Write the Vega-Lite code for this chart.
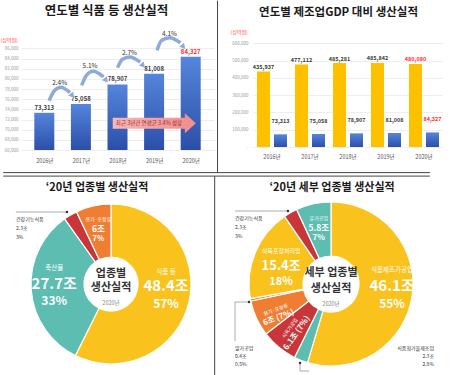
{
"$schema":"https://vega.github.io/schema/vega-lite/v6.json",
"background":"white",
"padding":0,
"config":{"font":"Noto Sans CJK KR","view":{"stroke":null},"title":{"font":"Noto Sans CJK KR","fontWeight":"bold","color":"#1a1a1a"},"axis":{"labelFont":"Noto Sans CJK KR","titleFont":"Noto Sans CJK KR"}},
"datasets":{
"foodYearly":[{"i":0,"year":"2016년","value":73313},{"i":1,"year":"2017년","value":75058},{"i":2,"year":"2018년","value":78907},{"i":3,"year":"2019년","value":81008},{"i":4,"year":"2020년","value":84327}],
"gdpYearly":[{"year":"2016년","series":"제조업GDP","value":435937},{"year":"2016년","series":"식품 등","value":73313},{"year":"2017년","series":"제조업GDP","value":477112},{"year":"2017년","series":"식품 등","value":75058},{"year":"2018년","series":"제조업GDP","value":485281},{"year":"2018년","series":"식품 등","value":78907},{"year":"2019년","series":"제조업GDP","value":485842},{"year":"2019년","series":"식품 등","value":81008},{"year":"2020년","series":"제조업GDP","value":480080},{"year":"2020년","series":"식품 등","value":84327}],
"growthArrows":[{"arrow":"a1","i":0.13,"value":75700},{"arrow":"a1","i":0.28,"value":77700},{"arrow":"a1","i":0.45,"value":78350},{"arrow":"a1","i":0.7,"value":77300},{"arrow":"a2","i":1.02,"value":78700},{"arrow":"a2","i":1.15,"value":80700},{"arrow":"a2","i":1.33,"value":81500},{"arrow":"a2","i":1.62,"value":80400},{"arrow":"a3","i":2.0,"value":82200},{"arrow":"a3","i":2.13,"value":83800},{"arrow":"a3","i":2.33,"value":84300},{"arrow":"a3","i":2.62,"value":83300},{"arrow":"a4","i":3.08,"value":85600},{"arrow":"a4","i":3.2,"value":87500},{"arrow":"a4","i":3.42,"value":88100},{"arrow":"a4","i":3.72,"value":87100}],
"growthHeads":[{"arrow":"a1","i":0.77,"value":76700},{"arrow":"a2","i":1.69,"value":79700},{"arrow":"a3","i":2.7,"value":82600},{"arrow":"a4","i":3.8,"value":86300}],
"growthRates":[{"i":0.42,"value":79150,"rate":"2.4%"},{"i":1.25,"value":82600,"rate":"5.1%"},{"i":2.33,"value":85150,"rate":"2.7%"},{"i":3.42,"value":88900,"rate":"4.1%"}],
"note":[{"caption":"최근 3년간 연평균 3.4% 성장"}],
"sector":[{"name":"식품 등","value":48.4,"amount":"48.4조","pct":"57%","ord":1},{"name":"축산물","value":27.7,"amount":"27.7조","pct":"33%","ord":2},{"name":"건강기능식품","value":2.3,"amount":"2.3조","pct":"3%","ord":3},{"name":"용기·포장류","value":6,"amount":"6조","pct":"7%","ord":4}],
"detail":[{"name":"식품제조가공업","value":46.1,"amount":"46.1조","pct":"55%","short":"46.1조 (55%)","ord":1},{"name":"식품첨가물제조업","value":2.3,"amount":"2.3조","pct":"2.8%","short":"2.3조 (2.8%)","ord":2},{"name":"식육가공업","value":6.1,"amount":"6.1조","pct":"7%","short":"6.1조 (7%)","ord":3},{"name":"용기·포장류","value":6,"amount":"6조","pct":"7%","short":"6조 (7%)","ord":4},{"name":"알가공업","value":0.4,"amount":"0.4조","pct":"0.5%","short":"0.4조 (0.5%)","ord":5},{"name":"식육포장처리업","value":15.4,"amount":"15.4조","pct":"18%","short":"15.4조 (18%)","ord":6},{"name":"건강기능식품","value":2.3,"amount":"2.3조","pct":"3%","short":"2.3조 (3%)","ord":7},{"name":"유가공업","value":5.8,"amount":"5.8조","pct":"7%","short":"5.8조 (7%)","ord":8}]
},
"columns":2,
"spacing":{"row":44,"column":39},
"bounds":"flush",
"concat":[
{
"width":193,"height":122,
"title":{"text":"연도별 식품 등 생산실적","fontSize":12.5,"dx":-11,"offset":-17.4},
"resolve":{"axis":{"x":"independent","y":"independent"}},
"layer":[
{"data":{"name":"foodYearly"},"mark":{"type":"bar","width":20,"fill":{"gradient":"linear","x1":0,"y1":0,"x2":0,"y2":1,"stops":[{"offset":0,"color":"#5585dc"},{"offset":1,"color":"#2b4fa8"}]}},
"encoding":{
"x":{"field":"i","type":"quantitative","scale":{"domain":[-0.5,4.5],"nice":false,"zero":false},"axis":{"values":[0,1,2,3,4],"labelExpr":"(2016 + datum.value) + '년'","grid":false,"domain":false,"ticks":false,"title":null,"labelFontSize":5.5,"labelColor":"#555","labelPadding":8}},
"y":{"field":"value","type":"quantitative","scale":{"domain":[66000,90000],"nice":false,"zero":false},"axis":{"values":[66000,68000,70000,72000,74000,76000,78000,80000,82000,84000,86000],"labelExpr":"format(datum.value, ',')","grid":true,"gridColor":"#e3e3e3","gridWidth":0.6,"domain":false,"ticks":false,"labelFontSize":4.5,"labelColor":"#999","labelPadding":3,"title":"(십억원)","titleColor":"#ff3b3b","titleFontSize":5,"titleFontWeight":"normal","titleAngle":0,"titleAlign":"left","titleBaseline":"middle","titleX":-21,"titleY":11}},
"y2":{"datum":66000}}},
{"data":{"name":"foodYearly"},"mark":{"type":"text","dy":-3,"fontSize":6,"fontWeight":"bold","baseline":"alphabetic"},"encoding":{
"x":{"field":"i","type":"quantitative","scale":{"domain":[-0.5,4.5],"nice":false,"zero":false},"axis":null},
"y":{"field":"value","type":"quantitative","scale":{"domain":[66000,90000],"nice":false,"zero":false},"axis":null},
"text":{"field":"value","type":"quantitative","format":","},"color":{"condition":{"test":"datum.i === 4","value":"#ff2a2a"},"value":"#3a3a3a"}}},
{"data":{"name":"growthArrows"},"mark":{"type":"line","interpolate":"monotone","strokeWidth":3.5,"color":"#8eaadb","strokeCap":"butt"},"encoding":{
"x":{"field":"i","type":"quantitative","scale":{"domain":[-0.5,4.5],"nice":false,"zero":false},"axis":null},
"y":{"field":"value","type":"quantitative","scale":{"domain":[66000,90000],"nice":false,"zero":false},"axis":null},
"detail":{"field":"arrow"}}},
{"data":{"name":"growthHeads"},"mark":{"type":"point","shape":"triangle-down","angle":-40,"size":40,"filled":true,"color":"#8eaadb","opacity":1},"encoding":{
"x":{"field":"i","type":"quantitative","scale":{"domain":[-0.5,4.5],"nice":false,"zero":false},"axis":null},
"y":{"field":"value","type":"quantitative","scale":{"domain":[66000,90000],"nice":false,"zero":false},"axis":null}}},
{"data":{"name":"growthRates"},"mark":{"type":"text","fontSize":6.5,"color":"#333"},"encoding":{
"x":{"field":"i","type":"quantitative","scale":{"domain":[-0.5,4.5],"nice":false,"zero":false},"axis":null},
"y":{"field":"value","type":"quantitative","scale":{"domain":[66000,90000],"nice":false,"zero":false},"axis":null},
"text":{"field":"rate"}}},
{"data":{"name":"note"},"mark":{"type":"rect","fill":{"gradient":"linear","x1":0,"y1":0,"x2":1,"y2":0,"stops":[{"offset":0,"color":"#f6b7b7"},{"offset":1,"color":"#f29090"}]}},"encoding":{
"x":{"datum":1.87,"type":"quantitative","scale":{"domain":[-0.5,4.5],"nice":false,"zero":false},"axis":null},"x2":{"datum":3.86},
"y":{"datum":72360,"type":"quantitative","scale":{"domain":[66000,90000],"nice":false,"zero":false},"axis":null},"y2":{"datum":70190}}},
{"data":{"name":"note"},"mark":{"type":"point","shape":"M-0.55,-1L0.55,0L-0.55,1Z","size":400,"filled":true,"color":"#f29090","opacity":1},"encoding":{
"x":{"datum":3.99,"type":"quantitative","scale":{"domain":[-0.5,4.5],"nice":false,"zero":false},"axis":null},
"y":{"datum":71280,"type":"quantitative","scale":{"domain":[66000,90000],"nice":false,"zero":false},"axis":null}}},
{"data":{"name":"note"},"mark":{"type":"text","fontSize":5.5,"color":"#9a3535"},"encoding":{
"x":{"datum":2.86,"type":"quantitative","scale":{"domain":[-0.5,4.5],"nice":false,"zero":false},"axis":null},
"y":{"datum":71280,"type":"quantitative","scale":{"domain":[66000,90000],"nice":false,"zero":false},"axis":null},
"text":{"field":"caption"}}},
{"data":{"values":[{}]},"mark":{"type":"rule","color":"#444","strokeWidth":1},"encoding":{
"x":{"datum":4.733,"type":"quantitative","scale":{"domain":[-0.5,4.5],"nice":false,"zero":false},"axis":null},
"y":{"datum":95390,"type":"quantitative","scale":{"domain":[66000,90000],"nice":false,"zero":false},"axis":null},"y2":{"datum":61554}}},
{"data":{"values":[{}]},"mark":{"type":"rule","color":"#444","strokeWidth":1},"encoding":{
"x":{"datum":-1.122,"type":"quantitative","scale":{"domain":[-0.5,4.5],"nice":false,"zero":false},"axis":null},"x2":{"datum":10.536},
"y":{"datum":61554,"type":"quantitative","scale":{"domain":[66000,90000],"nice":false,"zero":false},"axis":null}}},
{"data":{"values":[{}]},"mark":{"type":"rule","color":"#444","strokeWidth":1},"encoding":{
"x":{"datum":-1.122,"type":"quantitative","scale":{"domain":[-0.5,4.5],"nice":false,"zero":false},"axis":null},"x2":{"datum":10.536},
"y":{"datum":60866,"type":"quantitative","scale":{"domain":[66000,90000],"nice":false,"zero":false},"axis":null}}},
{"data":{"values":[{}]},"mark":{"type":"rule","color":"#444","strokeWidth":1},"encoding":{
"x":{"datum":4.655,"type":"quantitative","scale":{"domain":[-0.5,4.5],"nice":false,"zero":false},"axis":null},
"y":{"datum":60866,"type":"quantitative","scale":{"domain":[66000,90000],"nice":false,"zero":false},"axis":null},"y2":{"datum":21620}}}
]
},
{
"width":190,"height":119,
"title":{"text":"연도별 제조업GDP 대비 생산실적","fontSize":11.5,"dx":-9.5,"offset":10},
"data":{"name":"gdpYearly"},
"encoding":{
"x":{"field":"year","type":"nominal","scale":{"paddingInner":0,"paddingOuter":0},"axis":{"labelAngle":0,"grid":false,"domain":false,"ticks":false,"title":null,"labelFontSize":5.5,"labelColor":"#555","labelPadding":7}},
"xOffset":{"field":"series","type":"nominal","scale":{"domain":["제조업GDP","식품 등"],"paddingInner":0.235,"paddingOuter":0.235}},
"y":{"field":"value","type":"quantitative","scale":{"domain":[0,688000],"nice":false},"axis":{"values":[0,100000,200000,300000,400000,500000,600000],"labelExpr":"datum.value === 0 ? '-' : format(datum.value, ',')","grid":true,"gridColor":"#e3e3e3","gridWidth":0.6,"domain":false,"ticks":false,"labelFontSize":4.5,"labelColor":"#999","labelPadding":5,"title":"(십억원)","titleColor":"#ff3b3b","titleFontSize":5,"titleFontWeight":"normal","titleAngle":0,"titleAlign":"left","titleBaseline":"middle","titleX":-23,"titleY":3.3}}
},
"layer":[
{"transform":[{"filter":"datum.series === '제조업GDP'"}],"mark":{"type":"bar","fill":"#ffc000"}},
{"transform":[{"filter":"datum.series === '식품 등'"}],"mark":{"type":"bar","fill":{"gradient":"linear","x1":0,"y1":0,"x2":0,"y2":1,"stops":[{"offset":0,"color":"#5585dc"},{"offset":1,"color":"#2b4fa8"}]}}},
{"transform":[{"filter":"datum.series === '제조업GDP'"}],"mark":{"type":"text","dy":-2.5,"fontSize":5.5,"fontWeight":"bold","baseline":"alphabetic"},"encoding":{"text":{"field":"value","type":"quantitative","format":","},"color":{"condition":{"test":"datum.year === '2020년'","value":"#ff2a2a"},"value":"#3a3a3a"}}},
{"transform":[{"filter":"datum.series === '식품 등'"}],"mark":{"type":"text","dy":-11,"fontSize":5.5,"fontWeight":"bold","baseline":"alphabetic"},"encoding":{"text":{"field":"value","type":"quantitative","format":","},"color":{"condition":{"test":"datum.year === '2020년'","value":"#ff2a2a"},"value":"#3a3a3a"}}}
]
},
{
"width":180,"height":180,
"title":{"text":"‘20년 업종별 생산실적","fontSize":11,"dx":-14,"offset":1},
"data":{"name":"sector"},
"layer":[
{"mark":{"type":"arc","outerRadius":80,"innerRadius":27,"stroke":"#ffffff","strokeWidth":1.2},"encoding":{"theta":{"field":"value","type":"quantitative","stack":true},"order":{"field":"ord","type":"quantitative"},"color":{"field":"name","type":"nominal","scale":{"domain":["식품 등","축산물","건강기능식품","용기·포장류"],"range":["#f9c21d","#5dbdb1","#c8363a","#ef7e33"]},"legend":null}}},
{"mark":{"type":"text","radius":56.5,"dy":-25,"fontSize":6.5,"color":"#ffffff"},"encoding":{"theta":{"field":"value","type":"quantitative","stack":true},"order":{"field":"ord","type":"quantitative"},"text":{"condition":{"test":"datum.name === '식품 등'","field":"name"},"value":""}}},
{"mark":{"type":"text","radius":56.5,"dy":-11,"fontSize":15,"fontWeight":"bold","color":"#ffffff"},"encoding":{"theta":{"field":"value","type":"quantitative","stack":true},"order":{"field":"ord","type":"quantitative"},"text":{"condition":{"test":"datum.name === '식품 등'","field":"amount"},"value":""}}},
{"mark":{"type":"text","radius":56.5,"dy":7,"fontSize":12,"fontWeight":"bold","color":"#ffffff"},"encoding":{"theta":{"field":"value","type":"quantitative","stack":true},"order":{"field":"ord","type":"quantitative"},"text":{"condition":{"test":"datum.name === '식품 등'","field":"pct"},"value":""}}},
{"mark":{"type":"text","radius":57,"dy":-20,"fontSize":6.5,"color":"#ffffff"},"encoding":{"theta":{"field":"value","type":"quantitative","stack":true},"order":{"field":"ord","type":"quantitative"},"text":{"condition":{"test":"datum.name === '축산물'","field":"name"},"value":""}}},
{"mark":{"type":"text","radius":57,"dy":-4,"fontSize":15,"fontWeight":"bold","color":"#ffffff"},"encoding":{"theta":{"field":"value","type":"quantitative","stack":true},"order":{"field":"ord","type":"quantitative"},"text":{"condition":{"test":"datum.name === '축산물'","field":"amount"},"value":""}}},
{"mark":{"type":"text","radius":57,"dy":13,"fontSize":12,"fontWeight":"bold","color":"#ffffff"},"encoding":{"theta":{"field":"value","type":"quantitative","stack":true},"order":{"field":"ord","type":"quantitative"},"text":{"condition":{"test":"datum.name === '축산물'","field":"pct"},"value":""}}},
{"mark":{"type":"text","radius":57,"dy":-9.5,"fontSize":5,"color":"#ffffff"},"encoding":{"theta":{"field":"value","type":"quantitative","stack":true},"order":{"field":"ord","type":"quantitative"},"text":{"condition":{"test":"datum.name === '용기·포장류'","field":"name"},"value":""}}},
{"mark":{"type":"text","radius":57,"dy":0.5,"fontSize":8.5,"fontWeight":"bold","color":"#ffffff"},"encoding":{"theta":{"field":"value","type":"quantitative","stack":true},"order":{"field":"ord","type":"quantitative"},"text":{"condition":{"test":"datum.name === '용기·포장류'","field":"amount"},"value":""}}},
{"mark":{"type":"text","radius":57,"dy":10.5,"fontSize":7.5,"fontWeight":"bold","color":"#ffffff"},"encoding":{"theta":{"field":"value","type":"quantitative","stack":true},"order":{"field":"ord","type":"quantitative"},"text":{"condition":{"test":"datum.name === '용기·포장류'","field":"pct"},"value":""}}},
{"transform":[{"filter":"datum.name === '건강기능식품'"}],"mark":{"type":"text","align":"left","fontSize":5,"color":"#333"},"encoding":{"x":{"datum":-95,"type":"quantitative","scale":{"domain":[-90,90]},"axis":null},"y":{"datum":-65,"type":"quantitative","scale":{"domain":[-90,90],"reverse":true},"axis":null},"text":{"field":"name"}}},
{"transform":[{"filter":"datum.name === '건강기능식품'"}],"mark":{"type":"text","align":"left","fontSize":5,"color":"#333"},"encoding":{"x":{"datum":-95,"type":"quantitative","scale":{"domain":[-90,90]},"axis":null},"y":{"datum":-56,"type":"quantitative","scale":{"domain":[-90,90],"reverse":true},"axis":null},"text":{"field":"amount"}}},
{"transform":[{"filter":"datum.name === '건강기능식품'"}],"mark":{"type":"text","align":"left","fontSize":5,"color":"#333"},"encoding":{"x":{"datum":-95,"type":"quantitative","scale":{"domain":[-90,90]},"axis":null},"y":{"datum":-47,"type":"quantitative","scale":{"domain":[-90,90],"reverse":true},"axis":null},"text":{"field":"pct"}}},
{"data":{"values":[{}]},"mark":{"type":"rule","color":"#888","strokeWidth":0.7},"encoding":{"x":{"datum":-95,"type":"quantitative","scale":{"domain":[-90,90]},"axis":null},"x2":{"datum":-44},"y":{"datum":-72,"type":"quantitative","scale":{"domain":[-90,90],"reverse":true},"axis":null}}},
{"data":{"values":[{}]},"mark":{"type":"point","filled":true,"size":6,"color":"#333","opacity":1},"encoding":{"x":{"datum":-44,"type":"quantitative","scale":{"domain":[-90,90]},"axis":null},"y":{"datum":-72,"type":"quantitative","scale":{"domain":[-90,90],"reverse":true},"axis":null}}},
{"data":{"values":[{}]},"mark":{"type":"text","text":"업종별","fontSize":11,"fontWeight":"bold","color":"#333","dy":-10.5}},
{"data":{"values":[{}]},"mark":{"type":"text","text":"생산실적","fontSize":11,"fontWeight":"bold","color":"#333","dy":3.6}},
{"data":{"values":[{}]},"mark":{"type":"text","text":"2020년","fontSize":5.5,"color":"#888","dy":19}}
]
},
{
"width":156,"height":180,
"title":{"text":"‘20년 세부 업종별 생산실적","fontSize":11,"dx":1,"offset":1},
"data":{"name":"detail"},
"layer":[
{"mark":{"type":"arc","outerRadius":82,"innerRadius":28,"stroke":"#ffffff","strokeWidth":1.2},"encoding":{"theta":{"field":"value","type":"quantitative","stack":true},"order":{"field":"ord","type":"quantitative"},"color":{"field":"name","type":"nominal","scale":{"domain":["식품제조가공업","식품첨가물제조업","식육가공업","용기·포장류","알가공업","식육포장처리업","건강기능식품","유가공업"],"range":["#f9c21d","#62c6b8","#1f9c86","#c9383c","#7a1c20","#ef6b3a","#c6c6c6","#595959"]},"legend":null}}},
{"mark":{"type":"text","radius":61.7,"dy":-23,"fontSize":6.5,"color":"#ffffff"},"encoding":{"theta":{"field":"value","type":"quantitative","stack":true},"order":{"field":"ord","type":"quantitative"},"text":{"condition":{"test":"datum.name === '식품제조가공업'","field":"name"},"value":""}}},
{"mark":{"type":"text","radius":61.7,"dy":-7,"fontSize":15,"fontWeight":"bold","color":"#ffffff"},"encoding":{"theta":{"field":"value","type":"quantitative","stack":true},"order":{"field":"ord","type":"quantitative"},"text":{"condition":{"test":"datum.name === '식품제조가공업'","field":"amount"},"value":""}}},
{"mark":{"type":"text","radius":61.7,"dy":11,"fontSize":12,"fontWeight":"bold","color":"#ffffff"},"encoding":{"theta":{"field":"value","type":"quantitative","stack":true},"order":{"field":"ord","type":"quantitative"},"text":{"condition":{"test":"datum.name === '식품제조가공업'","field":"pct"},"value":""}}},
{"mark":{"type":"text","radius":57,"dy":-10,"fontSize":5,"color":"#ffffff"},"encoding":{"theta":{"field":"value","type":"quantitative","stack":true},"order":{"field":"ord","type":"quantitative"},"text":{"condition":{"test":"datum.name === '유가공업'","field":"name"},"value":""}}},
{"mark":{"type":"text","radius":57,"dy":0,"fontSize":8.5,"fontWeight":"bold","color":"#ffffff"},"encoding":{"theta":{"field":"value","type":"quantitative","stack":true},"order":{"field":"ord","type":"quantitative"},"text":{"condition":{"test":"datum.name === '유가공업'","field":"amount"},"value":""}}},
{"mark":{"type":"text","radius":57,"dy":10,"fontSize":8,"fontWeight":"bold","color":"#ffffff"},"encoding":{"theta":{"field":"value","type":"quantitative","stack":true},"order":{"field":"ord","type":"quantitative"},"text":{"condition":{"test":"datum.name === '유가공업'","field":"pct"},"value":""}}},
{"mark":{"type":"text","radius":54,"dy":-12,"fontSize":6,"color":"#ffffff"},"encoding":{"theta":{"field":"value","type":"quantitative","stack":true},"order":{"field":"ord","type":"quantitative"},"text":{"condition":{"test":"datum.name === '식육포장처리업'","field":"name"},"value":""}}},
{"mark":{"type":"text","radius":54,"dy":3,"fontSize":13,"fontWeight":"bold","color":"#ffffff"},"encoding":{"theta":{"field":"value","type":"quantitative","stack":true},"order":{"field":"ord","type":"quantitative"},"text":{"condition":{"test":"datum.name === '식육포장처리업'","field":"amount"},"value":""}}},
{"mark":{"type":"text","radius":54,"dy":19,"fontSize":11,"fontWeight":"bold","color":"#ffffff"},"encoding":{"theta":{"field":"value","type":"quantitative","stack":true},"order":{"field":"ord","type":"quantitative"},"text":{"condition":{"test":"datum.name === '식육포장처리업'","field":"pct"},"value":""}}},
{"mark":{"type":"text","radius":61,"dy":0,"angle":-20,"fontSize":5,"color":"#ffffff"},"encoding":{"theta":{"field":"value","type":"quantitative","stack":true},"order":{"field":"ord","type":"quantitative"},"text":{"condition":{"test":"datum.name === '용기·포장류'","field":"name"},"value":""}}},
{"mark":{"type":"text","radius":61,"dy":9,"angle":-20,"fontSize":8,"fontWeight":"bold","color":"#ffffff"},"encoding":{"theta":{"field":"value","type":"quantitative","stack":true},"order":{"field":"ord","type":"quantitative"},"text":{"condition":{"test":"datum.name === '용기·포장류'","field":"short"},"value":""}}},
{"mark":{"type":"text","radius":60,"dy":-4,"angle":-55,"fontSize":5,"color":"#ffffff"},"encoding":{"theta":{"field":"value","type":"quantitative","stack":true},"order":{"field":"ord","type":"quantitative"},"text":{"condition":{"test":"datum.name === '식육가공업'","field":"name"},"value":""}}},
{"mark":{"type":"text","radius":60,"dy":5,"angle":-55,"fontSize":8,"fontWeight":"bold","color":"#ffffff"},"encoding":{"theta":{"field":"value","type":"quantitative","stack":true},"order":{"field":"ord","type":"quantitative"},"text":{"condition":{"test":"datum.name === '식육가공업'","field":"short"},"value":""}}},
{"transform":[{"filter":"datum.name === '건강기능식품'"}],"mark":{"type":"text","align":"left","fontSize":5,"color":"#333"},"encoding":{"x":{"datum":-96,"type":"quantitative","scale":{"domain":[-78,78]},"axis":null},"y":{"datum":-66,"type":"quantitative","scale":{"domain":[-90,90],"reverse":true},"axis":null},"text":{"field":"name"}}},
{"transform":[{"filter":"datum.name === '건강기능식품'"}],"mark":{"type":"text","align":"left","fontSize":5,"color":"#333"},"encoding":{"x":{"datum":-96,"type":"quantitative","scale":{"domain":[-78,78]},"axis":null},"y":{"datum":-57,"type":"quantitative","scale":{"domain":[-90,90],"reverse":true},"axis":null},"text":{"field":"amount"}}},
{"transform":[{"filter":"datum.name === '건강기능식품'"}],"mark":{"type":"text","align":"left","fontSize":5,"color":"#333"},"encoding":{"x":{"datum":-96,"type":"quantitative","scale":{"domain":[-78,78]},"axis":null},"y":{"datum":-48,"type":"quantitative","scale":{"domain":[-90,90],"reverse":true},"axis":null},"text":{"field":"pct"}}},
{"transform":[{"filter":"datum.name === '알가공업'"}],"mark":{"type":"text","align":"left","fontSize":5,"color":"#333"},"encoding":{"x":{"datum":-96,"type":"quantitative","scale":{"domain":[-78,78]},"axis":null},"y":{"datum":64,"type":"quantitative","scale":{"domain":[-90,90],"reverse":true},"axis":null},"text":{"field":"name"}}},
{"transform":[{"filter":"datum.name === '알가공업'"}],"mark":{"type":"text","align":"left","fontSize":5,"color":"#333"},"encoding":{"x":{"datum":-96,"type":"quantitative","scale":{"domain":[-78,78]},"axis":null},"y":{"datum":72,"type":"quantitative","scale":{"domain":[-90,90],"reverse":true},"axis":null},"text":{"field":"amount"}}},
{"transform":[{"filter":"datum.name === '알가공업'"}],"mark":{"type":"text","align":"left","fontSize":5,"color":"#333"},"encoding":{"x":{"datum":-96,"type":"quantitative","scale":{"domain":[-78,78]},"axis":null},"y":{"datum":80,"type":"quantitative","scale":{"domain":[-90,90],"reverse":true},"axis":null},"text":{"field":"pct"}}},
{"transform":[{"filter":"datum.name === '식품첨가물제조업'"}],"mark":{"type":"text","align":"right","fontSize":5,"color":"#333"},"encoding":{"x":{"datum":103,"type":"quantitative","scale":{"domain":[-78,78]},"axis":null},"y":{"datum":64,"type":"quantitative","scale":{"domain":[-90,90],"reverse":true},"axis":null},"text":{"field":"name"}}},
{"transform":[{"filter":"datum.name === '식품첨가물제조업'"}],"mark":{"type":"text","align":"right","fontSize":5,"color":"#333"},"encoding":{"x":{"datum":103,"type":"quantitative","scale":{"domain":[-78,78]},"axis":null},"y":{"datum":72,"type":"quantitative","scale":{"domain":[-90,90],"reverse":true},"axis":null},"text":{"field":"amount"}}},
{"transform":[{"filter":"datum.name === '식품첨가물제조업'"}],"mark":{"type":"text","align":"right","fontSize":5,"color":"#333"},"encoding":{"x":{"datum":103,"type":"quantitative","scale":{"domain":[-78,78]},"axis":null},"y":{"datum":80,"type":"quantitative","scale":{"domain":[-90,90],"reverse":true},"axis":null},"text":{"field":"pct"}}},
{"data":{"values":[{}]},"mark":{"type":"rule","color":"#888","strokeWidth":0.7},"encoding":{"x":{"datum":-96,"type":"quantitative","scale":{"domain":[-78,78]},"axis":null},"x2":{"datum":-43},"y":{"datum":-73,"type":"quantitative","scale":{"domain":[-90,90],"reverse":true},"axis":null}}},
{"data":{"values":[{}]},"mark":{"type":"rule","color":"#888","strokeWidth":0.7},"encoding":{"x":{"datum":-96,"type":"quantitative","scale":{"domain":[-78,78]},"axis":null},"x2":{"datum":-82},"y":{"datum":18,"type":"quantitative","scale":{"domain":[-90,90],"reverse":true},"axis":null}}},
{"data":{"values":[{}]},"mark":{"type":"rule","color":"#888","strokeWidth":0.7},"encoding":{"x":{"datum":-96,"type":"quantitative","scale":{"domain":[-78,78]},"axis":null},"y":{"datum":18,"type":"quantitative","scale":{"domain":[-90,90],"reverse":true},"axis":null},"y2":{"datum":57}}},
{"data":{"values":[{}]},"mark":{"type":"rule","color":"#888","strokeWidth":0.7},"encoding":{"x":{"datum":-31,"type":"quantitative","scale":{"domain":[-78,78]},"axis":null},"y":{"datum":79,"type":"quantitative","scale":{"domain":[-90,90],"reverse":true},"axis":null},"y2":{"datum":87}}},
{"data":{"values":[{}]},"mark":{"type":"rule","color":"#888","strokeWidth":0.7},"encoding":{"x":{"datum":-31,"type":"quantitative","scale":{"domain":[-78,78]},"axis":null},"x2":{"datum":-22},"y":{"datum":87,"type":"quantitative","scale":{"domain":[-90,90],"reverse":true},"axis":null}}},
{"data":{"values":[{"p":"a","x":-43,"y":-73},{"p":"b","x":-82,"y":18},{"p":"c","x":-31,"y":79}]},"mark":{"type":"point","filled":true,"size":6,"color":"#333","opacity":1},"encoding":{"x":{"field":"x","type":"quantitative","scale":{"domain":[-78,78]},"axis":null},"y":{"field":"y","type":"quantitative","scale":{"domain":[-90,90],"reverse":true},"axis":null}}},
{"data":{"values":[{}]},"mark":{"type":"text","text":"세부 업종별","fontSize":11,"fontWeight":"bold","color":"#333","dy":-11}},
{"data":{"values":[{}]},"mark":{"type":"text","text":"생산실적","fontSize":11,"fontWeight":"bold","color":"#333","dy":5}},
{"data":{"values":[{}]},"mark":{"type":"text","text":"2020년","fontSize":5.5,"color":"#888","dy":20}}
]
}
]
}
